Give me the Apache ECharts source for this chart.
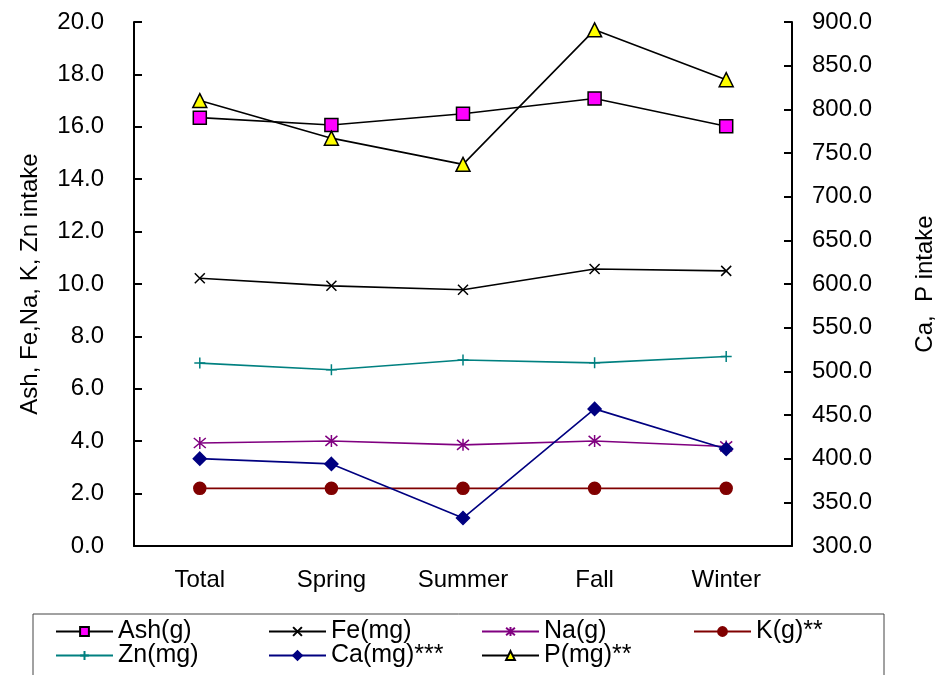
<!DOCTYPE html>
<html>
<head>
<meta charset="utf-8">
<script src="https://cdn.jsdelivr.net/npm/echarts@6/dist/echarts.min.js"></script>
<style>
  html, body { margin: 0; padding: 0; background: #fff; }
  #chart { width: 938px; height: 675px; }
</style>
</head>
<body>
<div id="chart"></div>
<script>
let seasons = ['Total', 'Spring', 'Summer', 'Fall', 'Winter'];

let ash = [16.35, 16.07, 16.5, 17.08, 16.02];
let fe = [10.22, 9.93, 9.78, 10.57, 10.5];
let na = [3.93, 4.01, 3.86, 4.01, 3.8];
let k = [2.2, 2.2, 2.2, 2.2, 2.2];
let zn = [6.98, 6.73, 7.1, 6.99, 7.23];
let ca = [400, 394, 332, 457, 411];
let p = [810, 767, 737, 891, 834];

let font = 'Liberation Sans, Arial, sans-serif';

let xPath = 'path://M0,0L10,10M10,0L0,10';
let starPath = 'path://M0,0L10,10M10,0L0,10M5,-1L5,11';
let plusPath = 'path://M5,0L5,10M0,5L10,5';

function lineSeries(name, data, color, symbol, size, fill, border, yIndex) {
    return {
        name: name,
        type: 'line',
        data: data,
        yAxisIndex: yIndex,
        symbol: symbol,
        symbolSize: size,
        showAllSymbol: true,
        lineStyle: { color: color, width: 1.6 },
        itemStyle: { color: fill, borderColor: border, borderWidth: 1.5 },
        emphasis: { disabled: true },
        z: 3
    };
}

let series = [
    lineSeries('Ash(g)', ash, '#000', 'rect', 13, '#ff00ff', '#000', 0),
    lineSeries('Fe(mg)', fe, '#000', xPath, 10, 'transparent', '#000', 0),
    lineSeries('Na(g)', na, '#800080', starPath, 12, 'transparent', '#800080', 0),
    lineSeries('K(g)**', k, '#800000', 'circle', 12, '#800000', '#800000', 0),
    lineSeries('Zn(mg)', zn, '#008080', plusPath, 11, 'transparent', '#008080', 0),
    lineSeries('Ca(mg)***', ca, '#000080', 'diamond', 13, '#000080', '#000080', 1),
    lineSeries('P(mg)**', p, '#000', 'triangle', 14, '#ffff00', '#000', 1)
];

// one legend per entry so the columns line up like the original
function legendItem(name, left, top) {
    return {
        data: [name],
        left: left,
        top: top,
        padding: 0,
        itemWidth: 57,
        itemHeight: 11,
        itemGap: 0,
        selectedMode: false,
        textStyle: { fontFamily: font, fontSize: 25, color: '#000', padding: [0, 0, 0, 0] }
    };
}

let option = {
    backgroundColor: '#fff',
    animation: false,
    grid: { left: 134, right: 146, top: 22, bottom: 129, outerBoundsMode: 'none' },
    legend: [
        legendItem('Ash(g)', 55, 619),
        legendItem('Fe(mg)', 268, 619),
        legendItem('Na(g)', 481, 619),
        legendItem('K(g)**', 693, 619),
        legendItem('Zn(mg)', 55, 643),
        legendItem('Ca(mg)***', 268, 643),
        legendItem('P(mg)**', 481, 643)
    ],
    graphic: [{
        type: 'rect',
        shape: { x: 33, y: 614, width: 851, height: 70 },
        style: { fill: 'none', stroke: '#444', lineWidth: 1 },
        silent: true
    }],
    xAxis: {
        type: 'category',
        data: seasons,
        boundaryGap: true,
        axisLine: { lineStyle: { color: '#000', width: 2 } },
        axisTick: { inside: true, length: 8, lineStyle: { color: '#000', width: 2 } },
        axisLabel: { margin: 22, fontFamily: font, fontSize: 24, color: '#000' },
        splitLine: { show: false }
    },
    yAxis: [
        {
            type: 'value',
            min: 0, max: 20, interval: 2,
            name: 'Ash, Fe,Na, K, Zn intake',
            nameLocation: 'middle',
            nameGap: 92,
            nameRotate: 90,
            nameTextStyle: { fontFamily: font, fontSize: 24, color: '#000' },
            axisLine: { show: true, lineStyle: { color: '#000', width: 2 } },
            axisTick: { show: true, inside: true, length: 8, lineStyle: { color: '#000', width: 2 } },
            axisLabel: { margin: 30, fontFamily: font, fontSize: 24, color: '#000', formatter: v => v.toFixed(1) },
            splitLine: { show: false }
        },
        {
            type: 'value',
            min: 300, max: 900, interval: 50,
            name: 'Ca,  P intake',
            nameLocation: 'middle',
            nameGap: 121,
            nameRotate: 90,
            nameTextStyle: { fontFamily: font, fontSize: 24, color: '#000' },
            axisLine: { show: true, lineStyle: { color: '#000', width: 2 } },
            axisTick: { show: true, inside: true, length: 8, lineStyle: { color: '#000', width: 2 } },
            axisLabel: { margin: 20, fontFamily: font, fontSize: 24, color: '#000', formatter: v => v.toFixed(1) },
            splitLine: { show: false }
        }
    ],
    series: series
};

let chart = echarts.init(document.getElementById('chart'));
chart.setOption(option);
</script>
</body>
</html>
